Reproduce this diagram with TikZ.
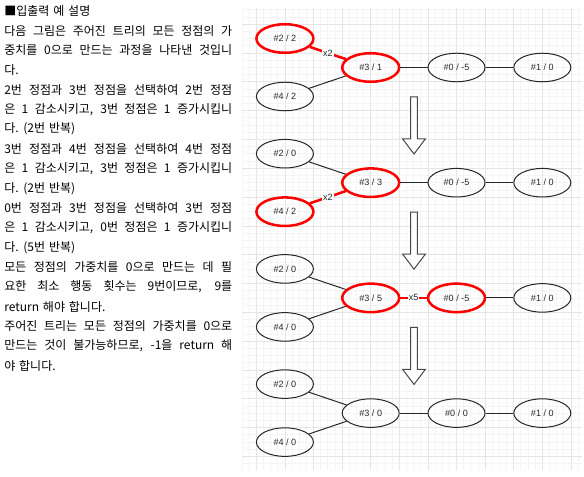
\documentclass[tikz,border=0pt]{standalone}
\usepackage{fontspec}
\setmainfont{Liberation Sans}
\newfontfamily\krfont[WordSpace=1.45]{Noto Sans CJK KR}
\usepackage{tikz}
\usetikzlibrary{shapes.geometric}
\definecolor{GridMinor}{HTML}{F4F4F4}
\definecolor{GridMajor}{HTML}{E5E5E5}
\definecolor{StepRed}{HTML}{FF0000}
\definecolor{InkLine}{HTML}{262626}
\newcommand{\fullline}[1]{\makebox[171pt][s]{#1}}

\begin{document}
\begin{tikzpicture}[x=0.75pt,y=-0.75pt,
  vtx/.style={ellipse,draw=InkLine,line width=0.75pt,minimum width=42.75pt,minimum height=21.4pt,inner sep=0pt,text=InkLine,font=\fontsize{6.8}{8}\selectfont},
  hot/.style={draw=StepRed,line width=1.9pt},
  link/.style={draw=InkLine,line width=0.75pt},
  hotlink/.style={draw=StepRed,line width=1.9pt},
  times/.style={fill=white,inner sep=0.8pt,text=InkLine,font=\fontsize{6.8}{8}\selectfont},
  txt/.style={anchor=west,inner sep=0pt,text=black,font=\krfont\fontsize{9}{11}\selectfont},
  bigarrow/.style={draw=InkLine!85,line width=0.75pt,fill=white}]
\path[use as bounding box] (0,0) rectangle (584,477);
% grid
\foreach \gx in {242,249.15,...,582.5} \draw[GridMinor,line width=0.6pt] (\gx,8) -- (\gx,470);
\foreach \gy in {9.9,17.1,...,470} \draw[GridMinor,line width=0.6pt] (242,\gy) -- (582,\gy);
\foreach \gx in {256.3,284.9,...,582.5} \draw[GridMajor,line width=0.6pt] (\gx,8) -- (\gx,470);
\foreach \gy in {24.3,53.1,...,470} \draw[GridMajor,line width=0.6pt] (242,\gy) -- (582,\gy);

% explanation
\node[txt] (t0) at (4,11.0) {■입출력 예 설명};
\node[txt] (t1) at (4,30.7) {\fullline{다음 그림은 주어진 트리의 모든 정점의 가}};
\node[txt] (t2) at (4,50.4) {\fullline{중치를 0으로 만드는 과정을 나타낸 것입니}};
\node[txt] (t3) at (4,70.1) {다.};
\node[txt] (t4) at (4,89.8) {\fullline{2번 정점과 3번 정점을 선택하여 2번 정점}};
\node[txt] (t5) at (4,109.5) {\fullline{은 1 감소시키고, 3번 정점은 1 증가시킵니}};
\node[txt] (t6) at (4,129.2) {다. (2번 반복)};
\node[txt] (t7) at (4,148.9) {\fullline{3번 정점과 4번 정점을 선택하여 4번 정점}};
\node[txt] (t8) at (4,168.6) {\fullline{은 1 감소시키고, 3번 정점은 1 증가시킵니}};
\node[txt] (t9) at (4,188.3) {다. (2번 반복)};
\node[txt] (t10) at (4,208.0) {\fullline{0번 정점과 3번 정점을 선택하여 3번 정점}};
\node[txt] (t11) at (4,227.7) {\fullline{은 1 감소시키고, 0번 정점은 1 증가시킵니}};
\node[txt] (t12) at (4,247.4) {다. (5번 반복)};
\node[txt] (t13) at (4,267.1) {\fullline{모든 정점의 가중치를 0으로 만드는 데 필}};
\node[txt] (t14) at (4,286.8) {\fullline{요한 최소 행동 횟수는 9번이므로, 9를}};
\node[txt] (t15) at (4,306.5) {return 해야 합니다.};
\node[txt] (t16) at (4,326.2) {\fullline{주어진 트리는 모든 정점의 가중치를 0으로}};
\node[txt] (t17) at (4,345.9) {\fullline{만드는 것이 불가능하므로, -1을 return 해}};
\node[txt] (t18) at (4,365.6) {야 합니다.};

% step 1
\node[vtx,hot] (a2) at (284.9,38.5) {\#2 / 2};
\node[vtx,hot] (a3) at (370.7,67.5) {\#3 / 1};
\node[vtx] (a0) at (456.5,67.5) {\#0 / -5};
\node[vtx] (a1) at (542.3,67.5) {\#1 / 0};
\node[vtx] (a4) at (284.9,96.5) {\#4 / 2};
\draw[hotlink] (a2) -- node[times] {x2} (a3);
\draw[link] (a4) -- (a3);
\draw[link] (a3) -- (a0);
\draw[link] (a0) -- (a1);
\draw[bigarrow] (410.7,97) -- (417.3,97) -- (417.3,139) -- (425.3,139) -- (414,154) -- (402.7,139) -- (410.7,139) -- cycle;

% step 2
\node[vtx] (b2) at (284.9,153.7) {\#2 / 0};
\node[vtx,hot] (b3) at (370.7,182.7) {\#3 / 3};
\node[vtx] (b0) at (456.5,182.7) {\#0 / -5};
\node[vtx] (b1) at (542.3,182.7) {\#1 / 0};
\node[vtx,hot] (b4) at (284.9,211.7) {\#4 / 2};
\draw[link] (b2) -- (b3);
\draw[hotlink] (b4) -- node[times] {x2} (b3);
\draw[link] (b3) -- (b0);
\draw[link] (b0) -- (b1);
\draw[bigarrow] (410.7,212.2) -- (417.3,212.2) -- (417.3,254.2) -- (425.3,254.2) -- (414,269.2) -- (402.7,254.2) -- (410.7,254.2) -- cycle;

% step 3
\node[vtx] (c2) at (284.9,268.9) {\#2 / 0};
\node[vtx,hot] (c3) at (370.7,297.9) {\#3 / 5};
\node[vtx,hot] (c0) at (456.5,297.9) {\#0 / -5};
\node[vtx] (c1) at (542.3,297.9) {\#1 / 0};
\node[vtx] (c4) at (284.9,326.9) {\#4 / 0};
\draw[link] (c2) -- (c3);
\draw[link] (c4) -- (c3);
\draw[hotlink] (c3) -- node[times] {x5} (c0);
\draw[link] (c0) -- (c1);
\draw[bigarrow] (410.7,327.4) -- (417.3,327.4) -- (417.3,369.4) -- (425.3,369.4) -- (414,384.4) -- (402.7,369.4) -- (410.7,369.4) -- cycle;

% step 4
\node[vtx] (d2) at (284.9,384.1) {\#2 / 0};
\node[vtx] (d3) at (370.7,413.1) {\#3 / 0};
\node[vtx] (d0) at (456.5,413.1) {\#0 / 0};
\node[vtx] (d1) at (542.3,413.1) {\#1 / 0};
\node[vtx] (d4) at (284.9,442.1) {\#4 / 0};
\draw[link] (d2) -- (d3);
\draw[link] (d4) -- (d3);
\draw[link] (d3) -- (d0);
\draw[link] (d0) -- (d1);
\end{tikzpicture}
\end{document}
